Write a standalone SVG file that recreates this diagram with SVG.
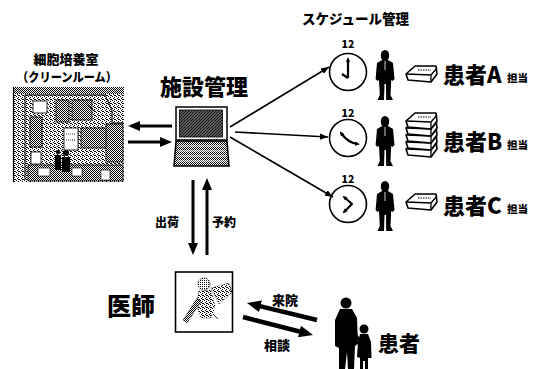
<svg xmlns="http://www.w3.org/2000/svg" width="556" height="369" viewBox="0 0 556 369">
  <style>
    .jp { font-family: "Noto Sans CJK JP", "Noto Sans", sans-serif; font-weight: 900; fill: #000; }
    .line { stroke: #000; fill: none; }
    .thin { stroke-width: 1.6; }
    .bold { stroke-width: 3; }
    .wide { stroke-width: 4.5; }
    .hand { stroke: #000; stroke-width: 2.2; fill: none; stroke-linejoin: round; }
    .ink { fill: #000; }
  </style>
  <defs>
    <pattern id="dither50" width="2" height="2" patternUnits="userSpaceOnUse">
      <rect width="2" height="2" fill="#fff"/>
      <rect x="0" y="0" width="1" height="1" fill="#000"/>
      <rect x="1" y="1" width="1" height="1" fill="#000"/>
    </pattern>
    <pattern id="dither25" width="2" height="2" patternUnits="userSpaceOnUse">
      <rect width="2" height="2" fill="#fff"/>
      <rect x="0" y="0" width="1" height="1" fill="#000"/>
    </pattern>
    <pattern id="speckle" width="4" height="4" patternUnits="userSpaceOnUse">
      <rect width="4" height="4" fill="#fff"/>
      <rect x="0" y="0" width="1" height="1" fill="#000"/>
      <rect x="2" y="1" width="1" height="1" fill="#000"/>
      <rect x="1" y="2" width="1" height="1" fill="#000"/>
      <rect x="3" y="3" width="1" height="1" fill="#000"/>
      <rect x="2" y="3" width="1" height="1" fill="#000"/>
    </pattern>
    <pattern id="hatch" width="3" height="3" patternUnits="userSpaceOnUse">
      <rect width="3" height="3" fill="#777"/>
      <path d="M-1,1 L1,-1 M0,3 L3,0 M2,4 L4,2" stroke="#111" stroke-width="1.1"/>
    </pattern>
    <marker id="head-thin" viewBox="0 0 10 8" refX="10" refY="4" markerWidth="8" markerHeight="6.4" markerUnits="userSpaceOnUse" orient="auto">
      <path d="M0,0 L10,4 L0,8 Z" fill="#000"/>
    </marker>
    <marker id="head-hand" viewBox="0 0 10 8" refX="6" refY="4" markerWidth="5" markerHeight="4.5" markerUnits="userSpaceOnUse" orient="auto-start-reverse">
      <path d="M0,0 L10,4 L0,8 Z" fill="#000"/>
    </marker>
    <marker id="head-bold" viewBox="0 0 12 10" refX="4" refY="5" markerWidth="12" markerHeight="10" markerUnits="userSpaceOnUse" orient="auto">
      <path d="M0,0 L12,5 L0,10 Z" fill="#000"/>
    </marker>
    <marker id="head-wide" viewBox="0 0 14 12" refX="5" refY="6" markerWidth="14" markerHeight="12" markerUnits="userSpaceOnUse" orient="auto">
      <path d="M0,0 L14,6 L0,12 Z" fill="#000"/>
    </marker>
    <!-- standing staff member silhouette, 22 x 50 -->
    <g id="staff">
      <ellipse cx="11" cy="5.5" rx="4.2" ry="5.5"/>
      <path d="M8,10 L14,10 L19,13 L20.5,29 L18.5,31 L17.2,30 L16.5,45 L19,50 L12.2,50 L12,34 L10.5,34 L10,50 L3.5,50 L5.8,45 L5,30 L3.6,31 L1.6,29 L3,13 Z"/>
      <path d="M11,11 L11,20" stroke="#fff" stroke-width="0.8"/>
    </g>
    <!-- a bundle of sheets, drawn as a slab -->
    <g id="sheet">
      <path d="M0,9 L9,1 L30,1 L31,9 L25,17 L2,15 Z" fill="#fff" stroke="#000" stroke-width="1.6" stroke-linejoin="round"/>
      <path d="M0,9 L25,10 L31,3 M25,10 L25,17" fill="none" stroke="#000" stroke-width="1.3"/>
      <path d="M12,5 L25,5" stroke="#000" stroke-width="1" stroke-dasharray="1.5 1"/>
    </g>
    <!-- clock face -->
    <g id="dial">
      <circle cx="0" cy="0" r="18.5" fill="#fff" stroke="#000" stroke-width="1.6"/>
    </g>
  </defs>

  <rect width="556" height="369" fill="#fff"/>

  <!-- cell culture room (clean room) -->
  <g id="cleanroom">
    <text class="jp" x="66" y="64" font-size="13" text-anchor="middle">細胞培養室</text>
    <text class="jp" x="67" y="82" font-size="12.5" text-anchor="middle" textLength="100" lengthAdjust="spacingAndGlyphs">（クリーンルーム）</text>
    <rect x="14" y="87" width="110" height="95" fill="url(#speckle)"/>
    <rect x="14" y="87" width="110" height="7" fill="url(#dither50)"/>
    <path d="M13.5,87 L13.5,182" stroke="#000" stroke-width="1.2"/>
    <path d="M25,95 L25,180 M25,95 L105,95 L112,110 L112,123 L124,123" stroke="#000" stroke-width="1" fill="none"/>
    <rect x="33" y="101" width="14" height="12" fill="#fff" stroke="#000" stroke-width="0.8"/>
    <rect x="30" y="117" width="12" height="30" fill="url(#dither50)" stroke="#000" stroke-width="0.8"/>
    <rect x="56" y="100" width="13" height="22" fill="url(#dither50)" stroke="#000" stroke-width="0.8"/>
    <rect x="72" y="100" width="20" height="20" fill="url(#dither50)" stroke="#000" stroke-width="0.8"/>
    <path d="M85,103 L97,113" stroke="#000" stroke-width="0.8"/>
    <rect x="64" y="128" width="14" height="22" fill="#fff" stroke="#000" stroke-width="0.8"/>
    <path d="M66,134 L76,134 M66,140 L76,140" stroke="#000" stroke-width="0.8" stroke-dasharray="1 1"/>
    <rect x="81" y="128" width="26" height="20" fill="url(#dither50)" stroke="#000" stroke-width="0.8"/>
    <rect x="106" y="124" width="17" height="38" fill="url(#dither50)" stroke="#000" stroke-width="0.8"/>
    <rect x="31" y="152" width="10" height="12" fill="#fff" stroke="#000" stroke-width="0.8"/>
    <rect x="28" y="165" width="95" height="16" fill="url(#dither50)" stroke="#000" stroke-width="0.8"/>
    <rect x="38" y="168" width="12" height="8" fill="#fff" stroke="#000" stroke-width="0.6"/>
    <rect x="72" y="168" width="10" height="8" fill="#fff" stroke="#000" stroke-width="0.6"/>
    <rect x="101" y="170" width="9" height="10" fill="#fff" stroke="#000" stroke-width="0.6"/>
    <!-- workers inside -->
    <circle cx="58" cy="152" r="2.2" class="ink"/>
    <path d="M55,155 L61,155 L61,170 L55,170 Z" class="ink"/>
    <circle cx="66" cy="153" r="3" class="ink"/>
    <path d="M62,157 L70,157 L70,172 L62,172 Z" class="ink"/>
  </g>

  <!-- facility management laptop -->
  <g id="facility">
    <text class="jp" x="160" y="95" font-size="22">施設管理</text>
    <rect x="176" y="107" width="51" height="33" fill="#fff" stroke="#000" stroke-width="1.5"/>
    <rect x="179.5" y="110" width="43" height="27" fill="url(#hatch)" stroke="#000" stroke-width="0.8"/>
    <path d="M176,141 L227,141 L229,166 L174,166 Z" fill="url(#dither50)" stroke="#000" stroke-width="1.5"/>
    <path d="M178,146 L225,146 M178,151 L226,151 M177,156 L226,156 M177,161 L227,161" stroke="#fff" stroke-width="0.8"/>
  </g>

  <!-- schedule management -->
  <text class="jp" x="302" y="24" font-size="13.5">スケジュール管理</text>

  <g id="clock-a">
    <text class="jp" x="348" y="48" font-size="10.5" text-anchor="middle">12</text>
    <use href="#dial" x="348" y="72"/>
    <path class="hand" d="M348,78 L348,59" marker-end="url(#head-hand)"/>
    <path class="hand" d="M348,78 L342,74"/>
  </g>
  <g id="clock-b">
    <text class="jp" x="348" y="117" font-size="10.5" text-anchor="middle">12</text>
    <use href="#dial" x="348" y="138"/>
    <path class="hand" d="M341,133 Q348,143 358,144" marker-start="url(#head-hand)" marker-end="url(#head-hand)"/>
  </g>
  <g id="clock-c">
    <text class="jp" x="348" y="183" font-size="10.5" text-anchor="middle">12</text>
    <use href="#dial" x="348" y="204"/>
    <path class="hand" d="M344,197 L352,204 L344,212" marker-start="url(#head-hand)" marker-end="url(#head-hand)"/>
  </g>

  <g id="staff-a"><use href="#staff" x="374" y="50"/></g>
  <g id="staff-b"><use href="#staff" x="374" y="116"/></g>
  <g id="staff-c"><use href="#staff" x="374" y="181"/></g>

  <g id="work-a"><use href="#sheet" x="406" y="65"/></g>
  <g id="work-b">
    <use href="#sheet" x="406" y="140"/>
    <use href="#sheet" x="406" y="133"/>
    <use href="#sheet" x="406" y="126"/>
    <use href="#sheet" x="406" y="119"/>
    <use href="#sheet" x="406" y="112"/>
  </g>
  <g id="work-c"><use href="#sheet" x="406" y="193"/></g>

  <g id="patient-a">
    <text class="jp" x="443" y="83" font-size="22">患者A</text>
    <text class="jp" x="507" y="82" font-size="10.5">担当</text>
  </g>
  <g id="patient-b">
    <text class="jp" x="443" y="150" font-size="22">患者B</text>
    <text class="jp" x="507" y="149" font-size="10.5">担当</text>
  </g>
  <g id="patient-c">
    <text class="jp" x="443" y="214" font-size="22">患者C</text>
    <text class="jp" x="507" y="213" font-size="10.5">担当</text>
  </g>

  <!-- physician -->
  <g id="physician">
    <text class="jp" x="107" y="315" font-size="24">医師</text>
    <rect x="175.5" y="272" width="57" height="60" fill="#fff" stroke="#000" stroke-width="1.6"/>
    <circle cx="204" cy="284" r="6" fill="url(#dither25)" stroke="#000" stroke-width="0.8" stroke-dasharray="1.5 1"/>
    <path d="M199,291 L211,290 L215,306 L211,318 L201,318 L196,304 Z" fill="url(#speckle)" stroke="#000" stroke-width="0.6" stroke-dasharray="1 1.5"/>
    <path d="M211,288 L229,283 L232,292 L219,304 Z" fill="url(#speckle)" stroke="#000" stroke-width="0.6" stroke-dasharray="1 1"/>
    <path d="M197,298 L183,320 L187,323 L201,302 Z" fill="url(#dither50)" stroke="#000" stroke-width="0.6" stroke-dasharray="1 1"/>
    <path d="M213,314 L218,319" stroke="#000" stroke-width="0.8"/>
  </g>

  <!-- patient and family -->
  <g id="patient">
    <circle cx="346" cy="303" r="5.5" class="ink"/>
    <path d="M340,309 L352,309 L357,318 L358,344 L355,346 L354,369 L348,369 L347,352 L345,369 L339,369 L339,348 L335,346 L335,320 Z" class="ink"/>
    <path d="M356,335 L360,341" stroke="#000" stroke-width="2.5"/>
    <circle cx="364" cy="329" r="4.5" class="ink"/>
    <path d="M360,334 L368,334 L371,342 L371.5,358 L368,358 L368,369 L365,369 L365,361 L363,361 L363,369 L360,369 L360,358 L357,357 L358,342 Z" class="ink"/>
    <text class="jp" x="378" y="351" font-size="21">患者</text>
  </g>

  <!-- connectors -->
  <g id="connectors">
    <path class="line bold" d="M172,126 L136,126" marker-end="url(#head-bold)"/>
    <path class="line bold" d="M128,142 L164,142" marker-end="url(#head-bold)"/>

    <path class="line thin" d="M230,127 L329,67" marker-end="url(#head-thin)"/>
    <path class="line thin" d="M235,132 L328,137" marker-end="url(#head-thin)"/>
    <path class="line thin" d="M230,137 L333,197" marker-end="url(#head-thin)"/>

    <path class="line bold" d="M193,180 L193,247" marker-end="url(#head-bold)"/>
    <path class="line bold" d="M207,255 L207,186" marker-end="url(#head-bold)"/>
    <text class="jp" x="155" y="227" font-size="12">出荷</text>
    <text class="jp" x="212" y="227" font-size="12">予約</text>

    <path class="line wide" d="M317,320 L255.7,305.1" marker-end="url(#head-wide)"/>
    <path class="line wide" d="M243,317 L304.3,332.8" marker-end="url(#head-wide)"/>
    <text class="jp" x="272" y="305" font-size="13">来院</text>
    <text class="jp" x="264" y="350" font-size="13">相談</text>
  </g>
</svg>
